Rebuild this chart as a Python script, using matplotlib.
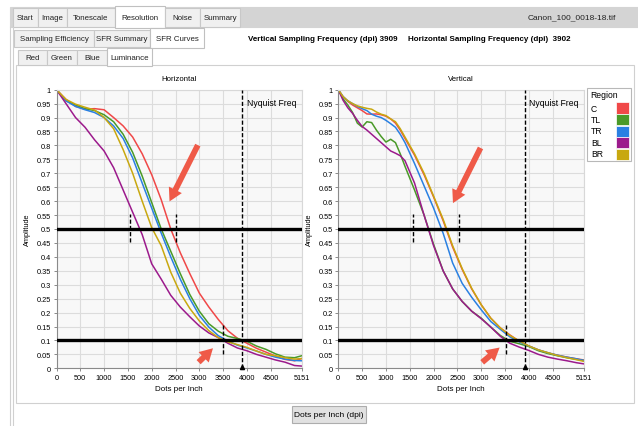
import matplotlib.pyplot as plt
from matplotlib.patches import Rectangle

plt.rcParams['font.family'] = ['Liberation Sans', 'DejaVu Sans']

W, H = 638, 427

# ---- data ----
regions = ['C', 'TL', 'TR', 'BL', 'BR']
colors = ['#f04848', '#4a9a28', '#2a80e2', '#9c1a8c', '#c8a810']

dpi_h = [0, 200, 400, 600, 800, 1000, 1200, 1400, 1600, 1800, 2000, 2200, 2400, 2600,
         2800, 3000, 3200, 3400, 3600, 3800, 4000, 4200, 4400, 4600, 4800, 5000, 5151]
h_c = [1.0, 0.965, 0.94, 0.93, 0.932, 0.928, 0.90, 0.87, 0.83, 0.77, 0.695, 0.605, 0.50, 0.415,
       0.34, 0.27, 0.22, 0.175, 0.135, 0.108, 0.09, 0.072, 0.058, 0.044, 0.032, 0.027, 0.035]
h_tl = [1.0, 0.96, 0.945, 0.932, 0.925, 0.91, 0.885, 0.84, 0.775, 0.69, 0.595, 0.50, 0.42, 0.34,
        0.265, 0.205, 0.16, 0.133, 0.115, 0.107, 0.097, 0.08, 0.068, 0.052, 0.04, 0.038, 0.045]
h_tr = [1.0, 0.96, 0.94, 0.928, 0.918, 0.90, 0.87, 0.825, 0.755, 0.665, 0.575, 0.485, 0.40, 0.32,
        0.25, 0.19, 0.148, 0.117, 0.098, 0.083, 0.073, 0.062, 0.05, 0.04, 0.033, 0.028, 0.027]
h_bl = [1.0, 0.95, 0.90, 0.865, 0.82, 0.78, 0.72, 0.64, 0.56, 0.48, 0.375, 0.32, 0.262, 0.22,
        0.185, 0.152, 0.127, 0.11, 0.09, 0.073, 0.063, 0.05, 0.04, 0.03, 0.022, 0.01, 0.008]
h_br = [1.0, 0.965, 0.948, 0.937, 0.927, 0.90, 0.86, 0.785, 0.70, 0.60, 0.505, 0.44, 0.345, 0.27,
        0.215, 0.17, 0.135, 0.11, 0.095, 0.085, 0.075, 0.062, 0.05, 0.045, 0.038, 0.033, 0.035]

dpi_v = [0, 100, 200, 300, 400, 500, 600, 700, 800, 900, 1000, 1100, 1200, 1300, 1400, 1600,
         1800, 2000, 2200, 2400, 2600, 2800, 3000, 3200, 3400, 3600, 3800, 4000, 4200, 4400,
         4600, 4800, 5000, 5151]
v_c = [1.0, 0.975, 0.958, 0.945, 0.935, 0.925, 0.913, 0.912, 0.913, 0.91, 0.905, 0.895, 0.88,
       0.855, 0.825, 0.765, 0.695, 0.615, 0.53, 0.435, 0.355, 0.285, 0.228, 0.18, 0.145, 0.12,
       0.097, 0.08, 0.066, 0.055, 0.047, 0.04, 0.034, 0.03]
v_tl = [1.0, 0.967, 0.945, 0.918, 0.88, 0.866, 0.885, 0.882, 0.855, 0.832, 0.812, 0.822, 0.81,
        0.77, 0.725, 0.64, 0.55, 0.445, 0.35, 0.285, 0.24, 0.205, 0.18, 0.148, 0.118, 0.097,
        0.088, 0.078, 0.063, 0.053, 0.045, 0.038, 0.032, 0.028]
v_tr = [1.0, 0.975, 0.96, 0.95, 0.94, 0.932, 0.925, 0.912, 0.905, 0.90, 0.89, 0.878, 0.865,
        0.84, 0.81, 0.735, 0.655, 0.575, 0.485, 0.378, 0.305, 0.255, 0.21, 0.168, 0.14, 0.113,
        0.095, 0.08, 0.066, 0.056, 0.047, 0.04, 0.034, 0.028]
v_bl = [1.0, 0.962, 0.935, 0.915, 0.89, 0.868, 0.855, 0.84, 0.825, 0.81, 0.795, 0.78, 0.772,
        0.763, 0.745, 0.665, 0.55, 0.44, 0.35, 0.285, 0.24, 0.205, 0.178, 0.148, 0.115, 0.09,
        0.076, 0.064, 0.05, 0.04, 0.033, 0.027, 0.02, 0.016]
v_br = [1.0, 0.975, 0.96, 0.95, 0.942, 0.937, 0.933, 0.93, 0.92, 0.912, 0.907, 0.895, 0.885,
        0.86, 0.83, 0.77, 0.70, 0.618, 0.535, 0.44, 0.358, 0.287, 0.228, 0.18, 0.145, 0.118,
        0.098, 0.08, 0.066, 0.056, 0.046, 0.038, 0.031, 0.025]

x_ticks = [0, 500, 1000, 1500, 2000, 2500, 3000, 3500, 4000, 4500, 5151]
y_ticks = [i * 0.05 for i in range(21)]
nyquist_h, nyquist_v = 3902, 3909
mtf50_marks_h, mtf50_marks_v = [1550, 2520], [1560, 2535]
mtf10_mark_h, mtf10_mark_v = 3500, 3515

row1_tabs = ['Start', 'Image', 'Tonescale', 'Resolution', 'Noise', 'Summary']
row2_tabs = ['Sampling Efficiency', 'SFR Summary', 'SFR Curves']
row3_tabs = ['Red', 'Green', 'Blue', 'Luminance']


def fx(x):
    return x / W


def fy(y):
    return 1 - y / H


def box(fig, x0, y0, x1, y1, fc, ec, lw=0.8):
    fig.patches.append(Rectangle((fx(x0), fy(y1)), (x1 - x0) / W, (y1 - y0) / H,
                                 transform=fig.transFigure, fc=fc, ec=ec, lw=lw, zorder=-5))


def vline(fig, x, y0, y1, color='#d0d0d0'):
    fig.add_artist(plt.Line2D([fx(x), fx(x)], [fy(y0), fy(y1)], color=color, lw=0.8,
                              transform=fig.transFigure, zorder=-4))


def tab_row(fig, names, edges, y0, y1, selected):
    for i, name in enumerate(names):
        x0, x1 = edges[i], edges[i + 1]
        if i == selected:
            box(fig, x0, y0 - 2, x1, y1 + 1, 'white', '#c0c0c0')
        else:
            box(fig, x0, y0, x1, y1, '#f0f0f0', '#c8c8c8')
        fig.text(fx((x0 + x1) / 2), fy((y0 + y1) / 2), name, fontsize=5.7,
                 ha='center', va='center', color='#222222')


def draw_panel(ax, dpi, curves, nyquist, marks50, mark10, title, arrows):
    ax.set_facecolor('#f8f8f8')
    for y, c in zip(curves, colors):
        ax.plot(dpi, y, color=c, lw=1.1, zorder=2)
    ax.axhline(0.5, color='black', lw=2.4, zorder=4)
    ax.axhline(0.1, color='black', lw=2.4, zorder=4)
    ax.axvline(nyquist, color='black', lw=1.0, ls=(0, (3, 1.5)), zorder=4)
    ax.plot([nyquist], [0.004], marker='^', color='black', ms=3, zorder=5, clip_on=False)
    for m in marks50:
        ax.plot([m, m], [0.455, 0.555], color='black', lw=1.0, ls=(0, (3, 1.5)), zorder=4)
    ax.plot([mark10, mark10], [0.05, 0.155], color='black', lw=1.0, ls=(0, (3, 1.5)), zorder=4)
    ax.text(nyquist + 90, 0.955, 'Nyquist Freq', fontsize=6.2, va='center', ha='left')
    for tail, tip in arrows:
        ax.annotate('', xy=tip, xytext=tail, zorder=6,
                    arrowprops=dict(arrowstyle='simple,head_width=0.95,head_length=0.85,tail_width=0.38',
                                    color='#ef5a48', mutation_scale=11, lw=0))
    ax.set_xlim(0, 5151)
    ax.set_ylim(0, 1)
    ax.set_xticks(x_ticks)
    ax.set_xticklabels([str(t) for t in x_ticks])
    ax.set_yticks(y_ticks)
    ax.set_yticklabels([f'{round(t, 2):g}' for t in y_ticks])
    ax.tick_params(labelsize=5.3, length=2.5, width=0.6, color='#777777', pad=1.5)
    ax.grid(True, color='#dcdcdc', lw=0.8)
    ax.set_axisbelow(True)
    for s in ['top', 'right']:
        ax.spines[s].set_color('#d8d8d8')
    for s in ['left', 'bottom']:
        ax.spines[s].set_color('#8a8a8a')
        ax.spines[s].set_linewidth(0.8)
    ax.set_xlabel('Dots per Inch', fontsize=5.8, labelpad=3)
    ax.set_ylabel('Amplitude', fontsize=5.3, labelpad=4)
    ax.set_title(title, fontsize=5.6, pad=7)


fig = plt.figure(figsize=(W / 100, H / 100), dpi=100)
fig.patch.set_facecolor('white')

# window chrome
box(fig, 10, 8, 650, 28, '#d4d4d4', '#d4d4d4')
vline(fig, 10, 28, 427)
vline(fig, 13, 28, 427)
tab_row(fig, row1_tabs, [13, 38, 67, 115, 165, 200, 240], 9, 28, 3)
fig.text(fx(528), fy(18), 'Canon_100_0018-18.tif', fontsize=6.0, va='center', color='#222222')
tab_row(fig, row2_tabs, [14, 94, 150, 204], 31, 48, 2)
fig.text(fx(248), fy(39.5), 'Vertical Sampling Frequency (dpi) 3909', fontsize=5.8,
         fontweight='bold', va='center')
fig.text(fx(408), fy(39.5), 'Horizontal Sampling Frequency (dpi)  3902', fontsize=5.8,
         fontweight='bold', va='center')
box(fig, 16, 66, 634, 404, 'white', '#d0d0d0')
tab_row(fig, row3_tabs, [18, 47, 77, 107, 152], 51, 66, 3)
box(fig, 292, 407, 366, 424, '#e1e1e1', '#adadad')
fig.text(fx(329), fy(415.5), 'Dots per Inch (dpi)', fontsize=6, ha='center', va='center')

# legend
box(fig, 587, 89, 631, 162, 'white', '#b8b8b8')
fig.text(fx(590), fy(96), 'Region', fontsize=6.2, va='center')
for i, (name, c) in enumerate(zip(regions, colors)):
    yc = 109 + i * 11.5
    fig.text(fx(591), fy(yc), name, fontsize=6.2, va='center')
    box(fig, 616, yc - 5.5, 629, yc + 5.5, c, 'white', lw=0.5)

ax_h = fig.add_axes([fx(56.5), fy(369.3), (301.7 - 56.5) / W, (369.3 - 90.7) / H])
ax_v = fig.add_axes([fx(338.3), fy(369.3), (583.7 - 338.3) / W, (369.3 - 90.7) / H])

draw_panel(ax_h, dpi_h, [h_c, h_tl, h_tr, h_bl, h_br], nyquist_h, mtf50_marks_h, mtf10_mark_h,
           'Horizontal', [((2995, 0.81), (2348, 0.59)), ((2944, 0.015), (3329, 0.079))])
draw_panel(ax_v, dpi_v, [v_c, v_tl, v_tr, v_bl, v_br], nyquist_v, mtf50_marks_v, mtf10_mark_v,
           'Vertical', [((3011, 0.80), (2381, 0.584)), ((2976, 0.015), (3431, 0.081))])

fig.savefig('out.png', dpi=100)
